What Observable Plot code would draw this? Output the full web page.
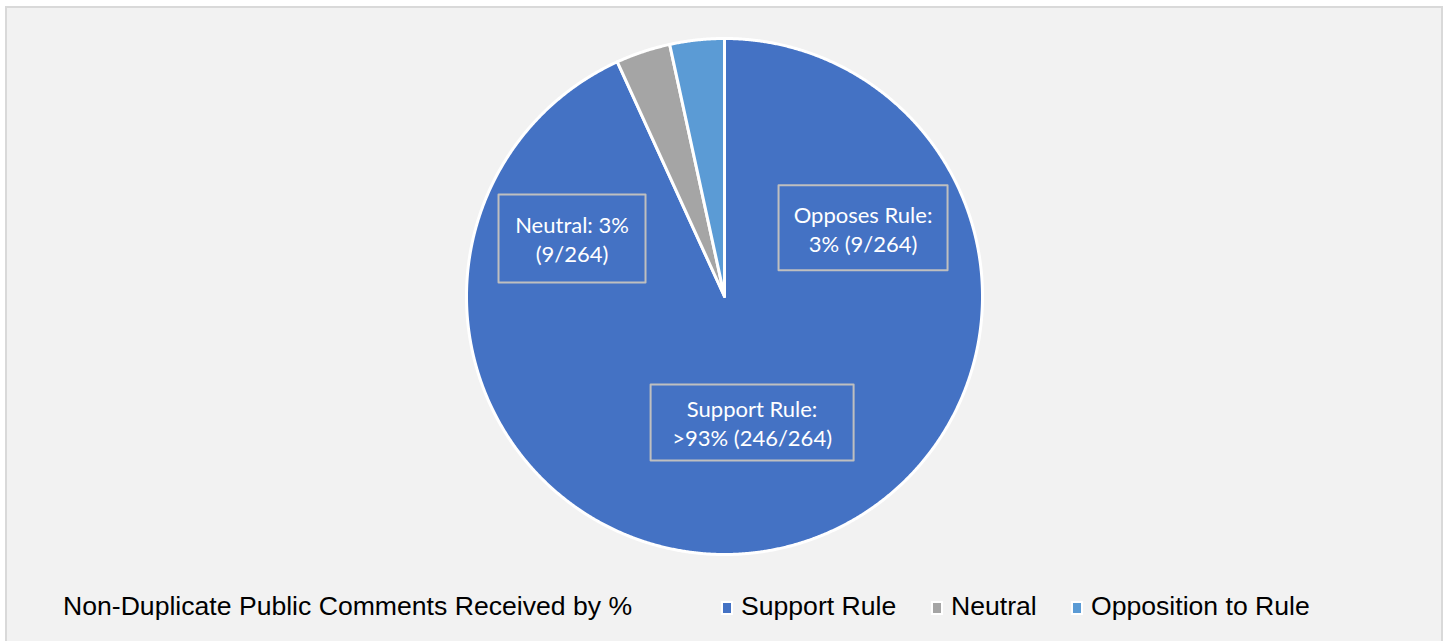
<!DOCTYPE html>
<html>
<head>
<meta charset="utf-8">
<script src="https://cdn.jsdelivr.net/npm/d3@7"></script>
<script src="https://cdn.jsdelivr.net/npm/@observablehq/plot@0.6"></script>
<style>
  html, body { margin: 0; padding: 0; background: #ffffff; }
  #wrap { position: relative; width: 1449px; height: 641px; overflow: hidden; }
  #panel { position: absolute; left: 5px; top: 6px; width: 1434px; height: 650px;
           background: #f2f2f2; border: 2px solid #d9d9d9; box-sizing: content-box; }
  #chart { position: absolute; left: 0; top: 0; }
  #chart svg { background: transparent; overflow: visible; }
  .leg { position: absolute; font-family: "Liberation Sans", Arial, sans-serif; font-size: 26.6px;
         line-height: 26.6px; color: #000; white-space: nowrap; }
  .sw { position: absolute; width: 8px; height: 10px; border: 2px solid #ffffff; }
</style>
</head>
<body>
<div id="wrap">
  <div id="panel"></div>
  <div id="chart"></div>
  <div id="legend"></div>
</div>
<script>
// ---- data ----
const categories = ["Support Rule", "Neutral", "Opposition to Rule"];
const counts = [246, 9, 9];
const colors = ["#4472C4", "#A5A5A5", "#5B9BD5"];
const labelLine1 = ["Support Rule:", "Neutral: 3%", "Opposes Rule:"];
const labelLine2 = [">93% (246/264)", "(9/264)", "3% (9/264)"];
const chartTitle = "Non-Duplicate Public Comments Received by %";

// ---- layout (pixels / radius units) ----
const R = 258;
const W = 1449, H = 641;
const cx = 724, cy = 296;
// label box centre (in radius units, y up) and box size (px)
const labelLayout = [
  {x: 0.107, y: -0.488, w: 203, h: 76},
  {x: -0.591, y: 0.225, w: 147, h: 88},
  {x: 0.537, y: 0.266, w: 169, h: 85}
];

const rows = categories.map((c, i) => ({category: c, count: counts[i]}));
const arcs = d3.pie().sort(null).value(d => d.count)(rows);

const step = Math.PI / 720;
const slices = arcs.map(a => {
  const ring = [[0, 0]];
  const n = Math.max(2, Math.ceil((a.endAngle - a.startAngle) / step));
  for (let k = 0; k <= n; k++) {
    const t = a.startAngle + (a.endAngle - a.startAngle) * k / n;
    ring.push([Math.sin(t), Math.cos(t)]);
  }
  ring.push([0, 0]);
  return {type: "Feature", properties: {category: a.data.category},
          geometry: {type: "Polygon", coordinates: [ring]}};
});

const labels = categories.map((c, i) => ({
  category: c,
  text: labelLine1[i] + "\n" + labelLine2[i],
  x: labelLayout[i].x, y: labelLayout[i].y
}));

const boxes = labels.map((l, i) => {
  const hw = labelLayout[i].w / 2 / R, hh = labelLayout[i].h / 2 / R;
  const x0 = l.x - hw, x1 = l.x + hw, y0 = l.y - hh, y1 = l.y + hh;
  return {type: "Feature", properties: {},
          geometry: {type: "Polygon", coordinates: [[[x0, y0], [x1, y0], [x1, y1], [x0, y1], [x0, y0]]]}};
});

const domain = {type: "Feature", properties: {}, geometry: {type: "Polygon",
  coordinates: [[[-1, -1], [1, -1], [1, 1], [-1, 1], [-1, -1]]]}};

const plot = Plot.plot({
  width: W,
  height: H,
  marginLeft: cx - R,
  marginRight: W - cx - R,
  marginTop: cy - R,
  marginBottom: H - cy - R,
  projection: {type: "reflect-y", domain: domain},
  color: {domain: categories, range: colors},
  style: {background: "transparent"},
  marks: [
    Plot.geo(slices, {fill: d => d.properties.category, stroke: "#ffffff", strokeWidth: 3, strokeLinejoin: "round"}),
    Plot.geo(boxes, {fill: "none", stroke: "#bfbfbf", strokeWidth: 2}),
    Plot.text(labels, {x: "x", y: "y", text: "text", fill: "#ffffff", fontSize: 22,
      fontFamily: "Lato, 'Open Sans', sans-serif", lineHeight: 1.32, lineAnchor: "middle", textAnchor: "middle"})
  ]
});
document.getElementById("chart").appendChild(plot);

// ---- legend (HTML) ----
const legend = document.getElementById("legend");
const t = document.createElement("div");
t.className = "leg";
t.style.left = "63px";
t.style.top = "593px";
t.textContent = chartTitle;
legend.appendChild(t);
const legX = [722, 932, 1072];
categories.forEach((c, i) => {
  const s = document.createElement("div");
  s.className = "sw";
  s.style.left = (legX[i] - 1) + "px";
  s.style.top = "601px";
  s.style.background = colors[i];
  legend.appendChild(s);
  const l = document.createElement("div");
  l.className = "leg";
  l.style.left = (legX[i] + 19) + "px";
  l.style.top = "593px";
  l.textContent = c;
  legend.appendChild(l);
});
</script>
</body>
</html>
